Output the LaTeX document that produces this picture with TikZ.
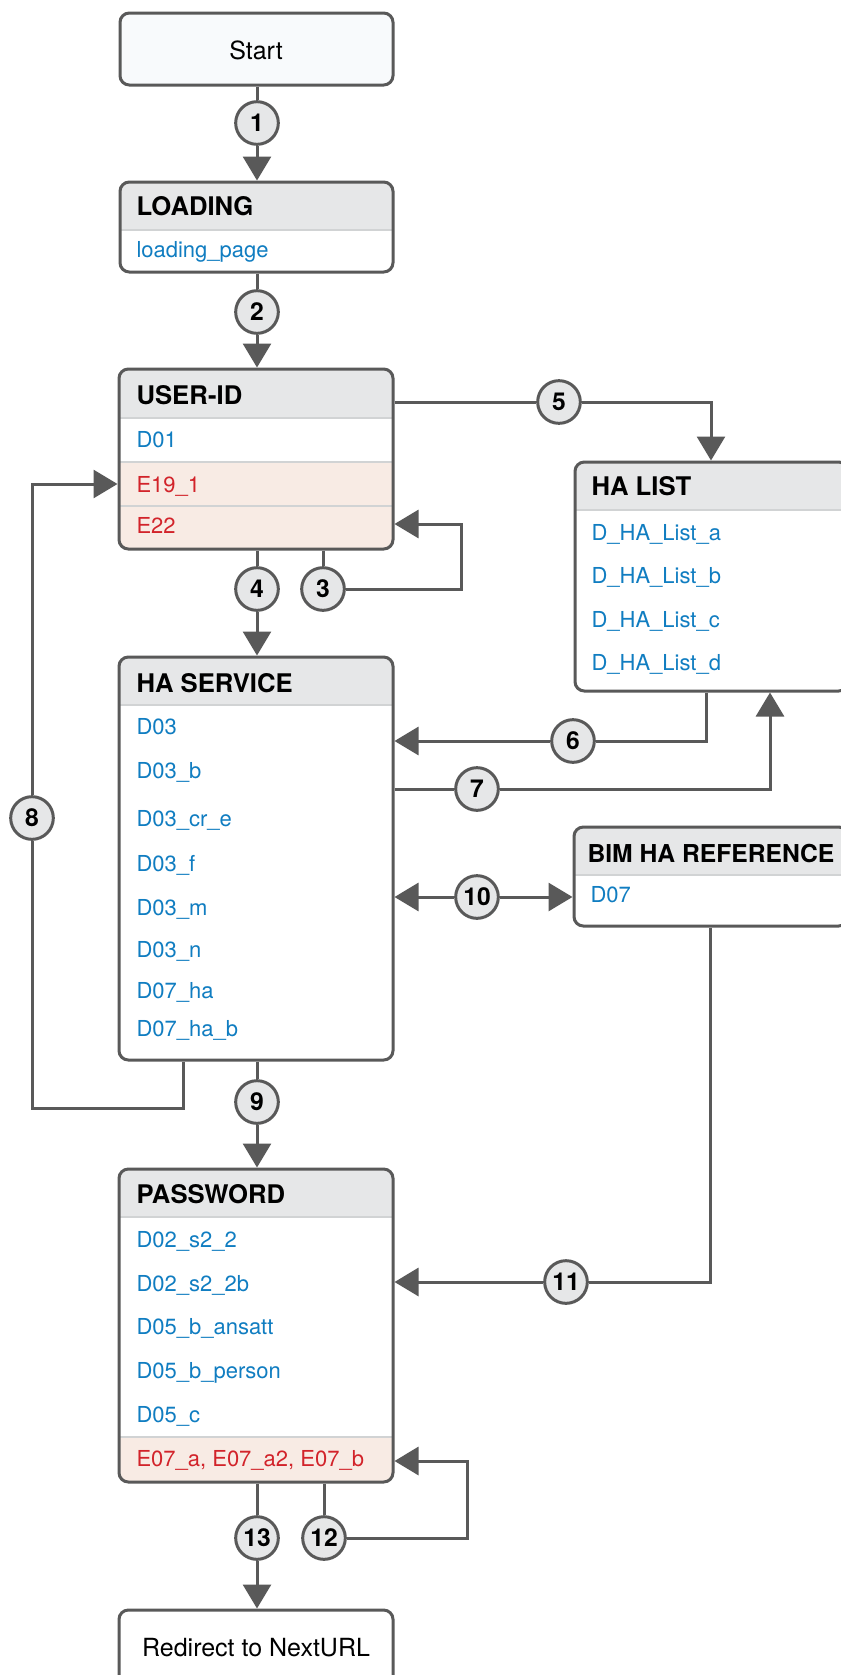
\documentclass[tikz,border=0pt]{standalone}
\usepackage{fontspec}
\setmainfont{TeX Gyre Heros}
\usetikzlibrary{arrows.meta,fit}

\definecolor{linegray}{RGB}{89,89,89}
\definecolor{headgray}{RGB}{230,231,232}
\definecolor{sepgray}{RGB}{209,211,212}
\definecolor{errfill}{RGB}{248,235,228}
\definecolor{itemblue}{RGB}{16,125,193}
\definecolor{errred}{RGB}{210,35,42}
\definecolor{startfill}{RGB}{248,250,252}

\tikzset{every picture/.style={line width=2.25pt}}

\begin{document}
\begin{tikzpicture}[x=0.75pt,y=0.75pt,yscale=-1,
	boxline/.style={draw=linegray, line width=2.25pt, rounded corners=7pt, inner sep=0pt},
	conn/.style={draw=linegray, line width=2.25pt},
	arr/.style={conn, -{Triangle[length=18pt,width=21pt]}},
	numcirc/.style={circle, draw=linegray, fill=headgray, line width=2.25pt, minimum size=32pt, inner sep=0pt, font=\fontsize{18.5}{20}\selectfont\bfseries},
	headtxt/.style={anchor=base west, inner sep=0pt, font=\fontsize{19.25}{22}\selectfont\bfseries},
	itemtxt/.style={anchor=base west, inner sep=0pt, text=itemblue, font=\fontsize{16.5}{20}\selectfont},
	errtxt/.style={itemtxt, text=errred},
	plaintxt/.style={anchor=base, inner sep=0pt, font=\fontsize{18.75}{22}\selectfont},
	sepline/.style={draw=sepgray, line width=1.5pt}]
	\useasboundingbox (0,0) rectangle (841,1675);

	%Shape: Rounded Rect [Start]
	\node[boxline, fill=startfill, fit={(120,13) (393,85)}] (start) {};
	% Text Node
	\node[plaintxt] (starttxt) at (256,59) {Start};

	%Shape: Rounded Rect [LOADING]
	\begin{scope}
		\clip[rounded corners=7pt] (120,182) rectangle (393,272);
		\fill[white] (120,182) rectangle (393,272);
		\fill[headgray] (120,182) rectangle (393,230);
		\draw[sepline] (120,230) -- (393,230);
	\end{scope}
	\node[boxline, fit={(120,182) (393,272)}] (loading) {};
	% Text Node
	\node[headtxt] (loadhead) at (135,215) {LOADING};
	\node[itemtxt] (loadpage) at (135,257) {loading\_page};

	%Shape: Rounded Rect [USER-ID]
	\begin{scope}
		\clip[rounded corners=7pt] (119,369) rectangle (393,549);
		\fill[white] (119,369) rectangle (393,549);
		\fill[headgray] (119,369) rectangle (393,418);
		\fill[errfill] (119,462) rectangle (393,549);
		\draw[sepline] (119,418) -- (393,418);
		\draw[sepline] (119,462) -- (393,462);
		\draw[sepline] (119,506) -- (393,506);
	\end{scope}
	\node[boxline, fit={(119,369) (393,549)}] (userid) {};
	% Text Node
	\node[headtxt] (uidhead) at (135,404) {USER-ID};
	\node[itemtxt] (d01) at (135,447) {D01};
	\node[errtxt] (e191) at (135,492) {E19\_1};
	\node[errtxt] (e22) at (135,533) {E22};

	%Shape: Rounded Rect [HA LIST]
	\begin{scope}
		\clip[rounded corners=7pt] (575,462) rectangle (848,691);
		\fill[white] (575,462) rectangle (848,691);
		\fill[headgray] (575,462) rectangle (848,510);
		\draw[sepline] (575,510) -- (848,510);
	\end{scope}
	\node[boxline, fit={(575,462) (848,691)}] (halist) {};
	% Text Node
	\node[headtxt] (hlhead) at (590,495) {HA LIST};
	\node[itemtxt] (hla) at (590,540) {D\_HA\_List\_a};
	\node[itemtxt] (hlb) at (590,583) {D\_HA\_List\_b};
	\node[itemtxt] (hlc) at (590,627) {D\_HA\_List\_c};
	\node[itemtxt] (hld) at (590,670) {D\_HA\_List\_d};

	%Shape: Rounded Rect [HA SERVICE]
	\begin{scope}
		\clip[rounded corners=7pt] (119,657) rectangle (393,1060);
		\fill[white] (119,657) rectangle (393,1060);
		\fill[headgray] (119,657) rectangle (393,705);
		\draw[sepline] (119,705) -- (393,705);
	\end{scope}
	\node[boxline, fit={(119,657) (393,1060)}] (hasvc) {};
	% Text Node
	\node[headtxt] (hshead) at (135,692) {HA SERVICE};
	\node[itemtxt] (d03) at (135,734) {D03};
	\node[itemtxt] (d03b) at (135,778) {D03\_b};
	\node[itemtxt] (d03cre) at (135,826) {D03\_cr\_e};
	\node[itemtxt] (d03f) at (135,871) {D03\_f};
	\node[itemtxt] (d03m) at (135,915) {D03\_m};
	\node[itemtxt] (d03n) at (135,957) {D03\_n};
	\node[itemtxt] (d07ha) at (135,998) {D07\_ha};
	\node[itemtxt] (d07hab) at (135,1036) {D07\_ha\_b};

	%Shape: Rounded Rect [BIM HA REFERENCE]
	\begin{scope}
		\clip[rounded corners=7pt] (574,827) rectangle (848,926);
		\fill[white] (574,827) rectangle (848,926);
		\fill[headgray] (574,827) rectangle (848,875);
		\draw[sepline] (574,875) -- (848,875);
	\end{scope}
	\node[boxline, fit={(574,827) (848,926)}] (bimref) {};
	% Text Node
	\node[headtxt, font=\fontsize{18.5}{22}\selectfont\bfseries] (bimhead) at (586,862) {BIM HA REFERENCE};
	\node[itemtxt] (d07) at (589,902) {D07};

	%Shape: Rounded Rect [PASSWORD]
	\begin{scope}
		\clip[rounded corners=7pt] (119,1169) rectangle (393,1482);
		\fill[white] (119,1169) rectangle (393,1482);
		\fill[headgray] (119,1169) rectangle (393,1217);
		\fill[errfill] (119,1437) rectangle (393,1482);
		\draw[sepline] (119,1217) -- (393,1217);
		\draw[sepline] (119,1437) -- (393,1437);
	\end{scope}
	\node[boxline, fit={(119,1169) (393,1482)}] (passwd) {};
	% Text Node
	\node[headtxt] (pwhead) at (135,1203) {PASSWORD};
	\node[itemtxt] (d02a) at (135,1247) {D02\_s2\_2};
	\node[itemtxt] (d02b) at (135,1291) {D02\_s2\_2b};
	\node[itemtxt] (d05ba) at (135,1334) {D05\_b\_ansatt};
	\node[itemtxt] (d05bp) at (135,1378) {D05\_b\_person};
	\node[itemtxt] (d05c) at (135,1422) {D05\_c};
	\node[errtxt] (e07) at (135,1466) {E07\_a, E07\_a2, E07\_b};

	%Shape: Rounded Rect [Redirect]
	\node[boxline, fill=white, fit={(119,1610) (393,1700)}] (redirect) {};
	% Text Node
	\node[plaintxt] (redirtxt) at (256,1656) {Redirect to NextURL};

	%Shape: Circle [steps]
	\node[numcirc] (c1) at (257,123) {1};
	\node[numcirc] (c2) at (257,312) {2};
	\node[numcirc] (c3) at (323,589) {3};
	\node[numcirc] (c4) at (257,589) {4};
	\node[numcirc] (c5) at (559,402) {5};
	\node[numcirc] (c6) at (573,741) {6};
	\node[numcirc] (c7) at (477,789) {7};
	\node[numcirc] (c8) at (32,818) {8};
	\node[numcirc] (c9) at (257,1102) {9};
	\node[numcirc] (c10) at (477,897) {10};
	\node[numcirc] (c11) at (566,1282) {11};
	\node[numcirc] (c12) at (324,1538) {12};
	\node[numcirc] (c13) at (257,1538) {13};

	% bend points
	\coordinate (p3) at (461,524);
	\coordinate (p5) at (711,402);
	\coordinate (p6) at (706,741);
	\coordinate (p7) at (770,789);
	\coordinate (p8) at (183,1108);
	\coordinate (q8) at (32,484);
	\coordinate (p11) at (710,1282);
	\coordinate (p12) at (467,1461);

	%Straight Lines [1, 2]
	\draw[conn] (start.south -| c1) -- (c1);
	\draw[arr] (c1) -- (loading.north -| c1);
	\draw[conn] (loading.south -| c2) -- (c2);
	\draw[arr] (c2) -- (userid.north -| c2);
	%Straight Lines [3]
	\draw[conn] (userid.south -| c3) -- (c3);
	\draw[arr] (c3) -| (p3) -- (userid.east |- p3);
	%Straight Lines [4]
	\draw[conn] (userid.south -| c4) -- (c4);
	\draw[arr] (c4) -- (hasvc.north -| c4);
	%Straight Lines [5]
	\draw[conn] (userid.east |- p5) -- (c5);
	\draw[arr] (c5) -- (p5) -- (halist.north -| p5);
	%Straight Lines [6]
	\draw[conn] (halist.south -| p6) -- (p6) -- (c6);
	\draw[arr] (c6) -- (hasvc.east |- p6);
	%Straight Lines [7]
	\draw[conn] (hasvc.east |- p7) -- (c7);
	\draw[arr] (c7) -- (p7) -- (halist.south -| p7);
	%Straight Lines [8]
	\draw[conn] (hasvc.south -| p8) -- (p8) -| (c8);
	\draw[arr] (c8) -- (q8) -- (userid.west |- q8);
	%Straight Lines [9]
	\draw[conn] (hasvc.south -| c9) -- (c9);
	\draw[arr] (c9) -- (passwd.north -| c9);
	%Straight Lines [10]
	\draw[arr] (c10) -- (hasvc.east |- c10);
	\draw[arr] (c10) -- (bimref.west |- c10);
	%Straight Lines [11]
	\draw[conn] (bimref.south -| p11) -- (p11) -- (c11);
	\draw[arr] (c11) -- (passwd.east |- p11);
	%Straight Lines [12]
	\draw[conn] (passwd.south -| c12) -- (c12);
	\draw[arr] (c12) -| (p12) -- (passwd.east |- p12);
	%Straight Lines [13]
	\draw[conn] (passwd.south -| c13) -- (c13);
	\draw[arr] (c13) -- (redirect.north -| c13);

\end{tikzpicture}
\end{document}
